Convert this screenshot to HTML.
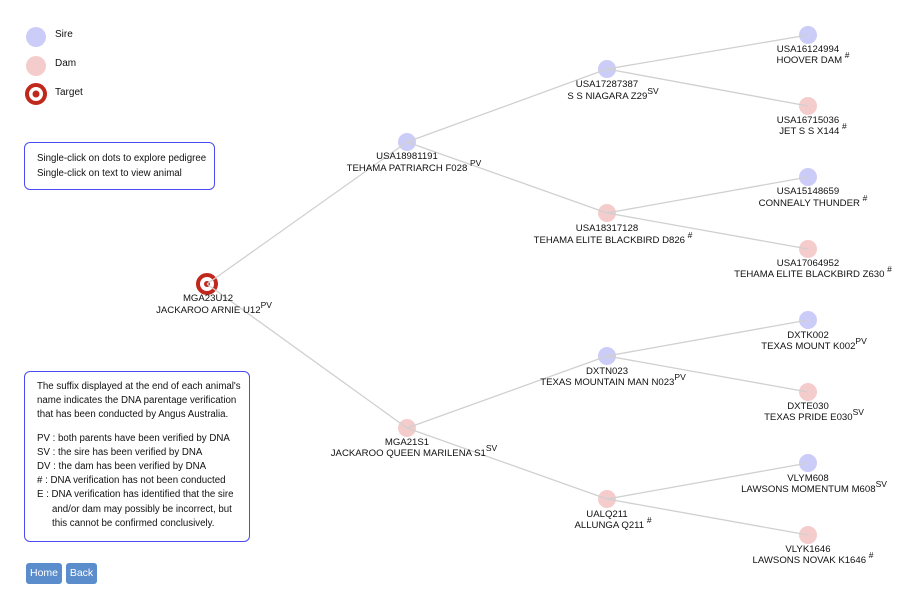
<!DOCTYPE html>
<html><head><meta charset="utf-8"><style>
body{margin:0;background:#fff;width:907px;height:600px;overflow:hidden;font-family:"Liberation Sans",Arial,sans-serif;}
.box{position:absolute;border:1.5px solid #4a4af0;border-radius:6px;font-size:9.7px;color:#111;box-sizing:border-box;white-space:nowrap;}
.btn{position:absolute;top:563px;height:21px;background:#5b8ccc;color:#fff;font-size:10.5px;line-height:21px;text-align:center;border-radius:3px;}
</style></head><body>
<svg width="907" height="600" style="position:absolute;left:0;top:0" font-family="Liberation Sans, Arial, sans-serif" font-size="9.6" fill="#111">
<circle cx="36" cy="37" r="10" fill="#ccccf8"/><text x="55" y="37" font-size="10">Sire</text>
<circle cx="36" cy="66" r="10" fill="#f5cccc"/><text x="55" y="66" font-size="10">Dam</text>
<circle cx="36" cy="94" r="9" fill="none" stroke="#c0281c" stroke-width="4"/><circle cx="36" cy="94" r="3.5" fill="#c0281c"/><text x="55" y="95" font-size="10">Target</text>
<g fill="#ccccf8"><circle cx="407" cy="142" r="9"/><circle cx="607" cy="69" r="9"/><circle cx="808" cy="35" r="9"/><circle cx="808" cy="177" r="9"/><circle cx="607" cy="356" r="9"/><circle cx="808" cy="320" r="9"/><circle cx="808" cy="463" r="9"/></g>
<g fill="#f5cccc"><circle cx="407" cy="428" r="9"/><circle cx="607" cy="213" r="9"/><circle cx="808" cy="106" r="9"/><circle cx="808" cy="249" r="9"/><circle cx="607" cy="499" r="9"/><circle cx="808" cy="392" r="9"/><circle cx="808" cy="535" r="9"/></g>
<circle cx="207" cy="284" r="9" fill="#fff" stroke="#c0281c" stroke-width="4"/><circle cx="207" cy="284" r="3" fill="#c0281c"/>
<g stroke="#d0d0d0" stroke-width="1.3">
<line x1="207" y1="284" x2="407" y2="142"/><line x1="207" y1="284" x2="407" y2="428"/>
<line x1="407" y1="142" x2="607" y2="69"/><line x1="407" y1="142" x2="607" y2="213"/>
<line x1="407" y1="428" x2="607" y2="356"/><line x1="407" y1="428" x2="607" y2="499"/>
<line x1="607" y1="69" x2="808" y2="35"/><line x1="607" y1="69" x2="808" y2="106"/>
<line x1="607" y1="213" x2="808" y2="177"/><line x1="607" y1="213" x2="808" y2="249"/>
<line x1="607" y1="356" x2="808" y2="320"/><line x1="607" y1="356" x2="808" y2="392"/>
<line x1="607" y1="499" x2="808" y2="463"/><line x1="607" y1="499" x2="808" y2="535"/>
</g>
<g text-anchor="middle">
<text x="208" y="301">MGA23U12</text><text x="214" y="313">JACKAROO ARNIE U12<tspan font-size="8.5" dy="-5">PV</tspan></text>
<text x="407" y="159">USA18981191</text><text x="414" y="171">TEHAMA PATRIARCH F028 <tspan font-size="8.5" dy="-5">PV</tspan></text>
<text x="407" y="445">MGA21S1</text><text x="414" y="456">JACKAROO QUEEN MARILENA S1<tspan font-size="8.5" dy="-5">SV</tspan></text>
<text x="607" y="87">USA17287387</text><text x="613" y="99">S S NIAGARA Z29<tspan font-size="8.5" dy="-5">SV</tspan></text>
<text x="607" y="231">USA18317128</text><text x="613" y="243">TEHAMA ELITE BLACKBIRD D826 <tspan font-size="8.5" dy="-5">#</tspan></text>
<text x="607" y="374">DXTN023</text><text x="613" y="385">TEXAS MOUNTAIN MAN N023<tspan font-size="8.5" dy="-5">PV</tspan></text>
<text x="607" y="517">UALQ211</text><text x="613" y="528">ALLUNGA Q211 <tspan font-size="8.5" dy="-5">#</tspan></text>
<text x="808" y="52">USA16124994</text><text x="813" y="63">HOOVER DAM <tspan font-size="8.5" dy="-5">#</tspan></text>
<text x="808" y="123">USA16715036</text><text x="813" y="134">JET S S X144 <tspan font-size="8.5" dy="-5">#</tspan></text>
<text x="808" y="194">USA15148659</text><text x="813" y="206">CONNEALY THUNDER <tspan font-size="8.5" dy="-5">#</tspan></text>
<text x="808" y="266">USA17064952</text><text x="813" y="277">TEHAMA ELITE BLACKBIRD Z630 <tspan font-size="8.5" dy="-5">#</tspan></text>
<text x="808" y="338">DXTK002</text><text x="814" y="349">TEXAS MOUNT K002<tspan font-size="8.5" dy="-5">PV</tspan></text>
<text x="808" y="409">DXTE030</text><text x="814" y="420">TEXAS PRIDE E030<tspan font-size="8.5" dy="-5">SV</tspan></text>
<text x="808" y="481">VLYM608</text><text x="814" y="492">LAWSONS MOMENTUM M608<tspan font-size="8.5" dy="-5">SV</tspan></text>
<text x="808" y="552">VLYK1646</text><text x="813" y="563">LAWSONS NOVAK K1646 <tspan font-size="8.5" dy="-5">#</tspan></text>
</g>
</svg>
<div class="box" style="left:24px;top:142px;width:191px;height:48px;padding:9px 0 0 12px;line-height:14.5px;">Single-click on dots to explore pedigree<br>Single-click on text to view animal</div>
<div class="box" style="left:24px;top:371px;width:226px;height:171px;padding:8px 0 0 12px;line-height:14.2px;">
The suffix displayed at the end of each animal's<br>name indicates the DNA parentage verification<br>that has been conducted by Angus Australia.
<div style="margin-top:9px">PV : both parents have been verified by DNA<br>SV : the sire has been verified by DNA<br>DV : the dam has been verified by DNA<br># : DNA verification has not been conducted<br>E : DNA verification has identified that the sire<br><span style="padding-left:15px">and/or dam may possibly be incorrect, but</span><br><span style="padding-left:15px">this cannot be confirmed conclusively.</span></div></div>
<div class="btn" style="left:26px;width:36px;">Home</div>
<div class="btn" style="left:66px;width:31px;">Back</div>
</body></html>
